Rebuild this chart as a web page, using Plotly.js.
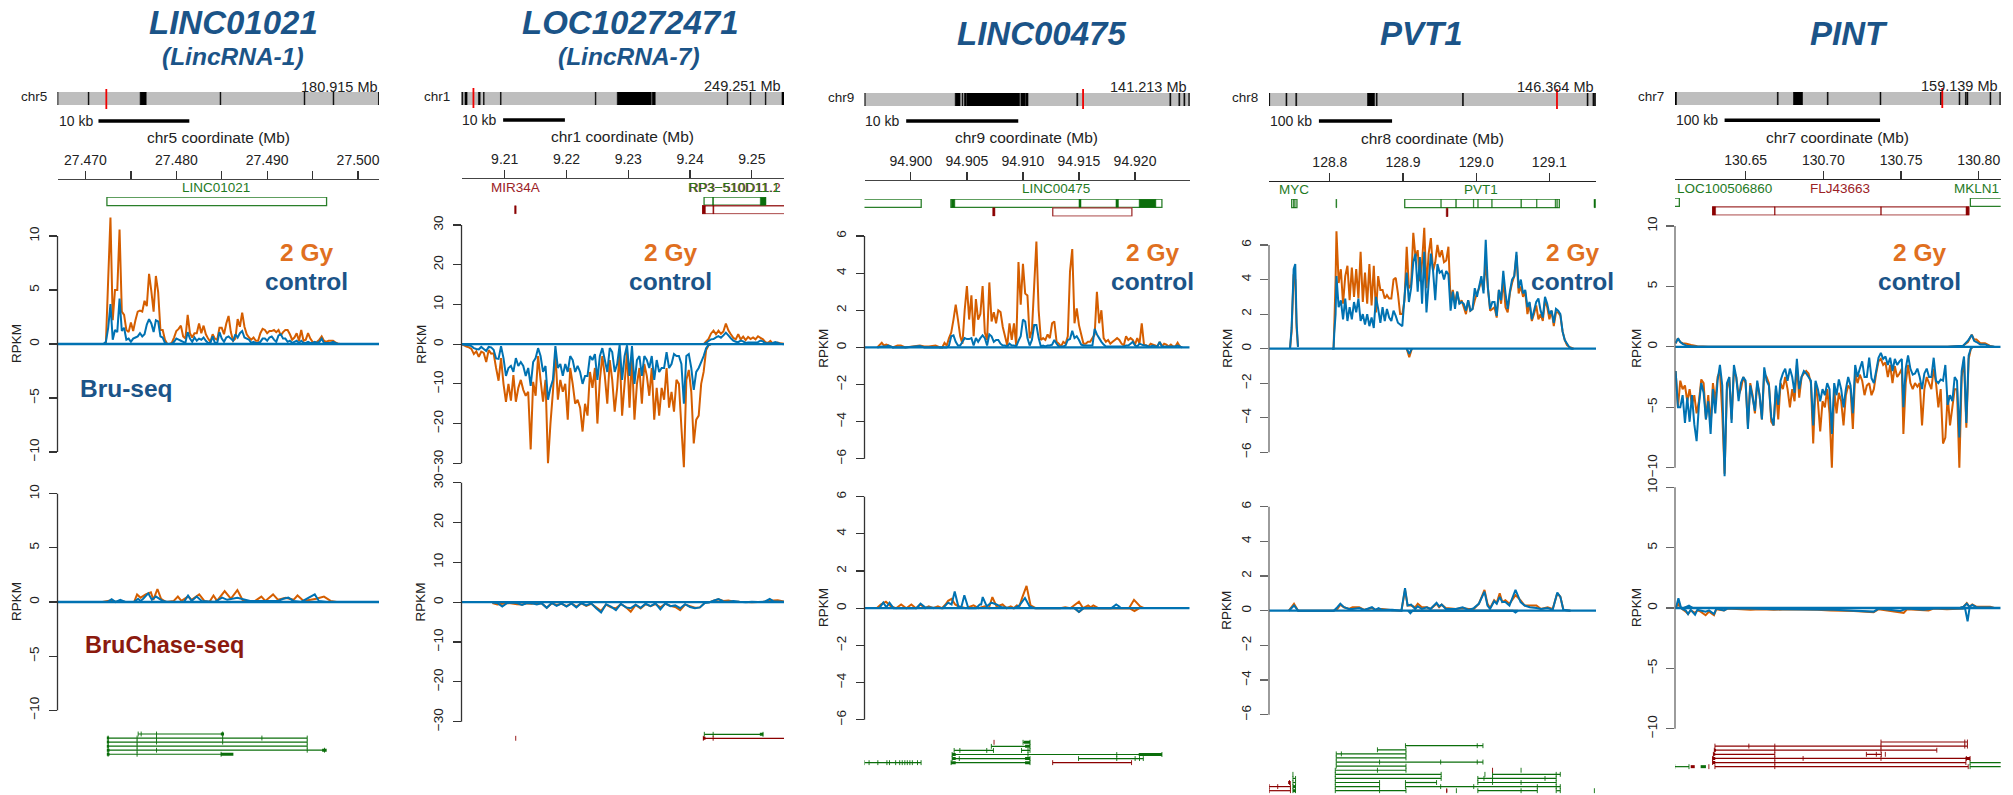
<!DOCTYPE html>
<html><head><meta charset="utf-8">
<script src="https://cdn.plot.ly/plotly-3.0.1.min.js"></script>
<style>html,body{margin:0;padding:0;background:#fff}</style></head>
<body><div id="chart" style="width:2013px;height:795px"></div>
<script>
// ---------- text ----------
const geneTitles = ["LINC01021","LOC10272471","LINC00475","PVT1","PINT"];
const geneSubtitles = ["(LincRNA-1)","(LincRNA-7)","","",""];
const chroms = ["chr5","chr1","chr9","chr8","chr7"];
const chromLen = [180.915,249.251,141.213,146.364,159.139];
const scaleKb = [10,10,10,100,100];
// ---------- genome axis ticks (Mb); x data below are kb offsets from origin ----------
const origin = [27.470,9.200,94.900,128.800,130.650];
const ticks1 = [27.470,27.475,27.480,27.485,27.490,27.495,27.500];
const tickText1 = ["27.470","","27.480","","27.490","","27.500"];
const ticks2 = [9.21,9.22,9.23,9.24,9.25];
const tickText2 = ["9.21","9.22","9.23","9.24","9.25"];
const ticks3 = [94.900,94.905,94.910,94.915,94.920];
const tickText3 = ["94.900","94.905","94.910","94.915","94.920"];
const ticks4 = [128.8,128.9,129.0,129.1];
const tickText4 = ["128.8","128.9","129.0","129.1"];
const ticks5 = [130.65,130.70,130.75,130.80];
const tickText5 = ["130.65","130.70","130.75","130.80"];
// ---------- ideogram bands (Mb), marker position (Mb) ----------
const cyto1 = [[0,.3],[17.3,17.7],[46.5,49.9],[91.5,91.9],[138.8,139.2],[155.1,155.5],[180.6,180.915]];
const cyto2 = [[0,1],[2.7,4.3],[13.1,14.4],[17,17.5],[30.1,30.6],[103.4,103.9],[120.4,146.6],[147.4,149.7],[205.3,205.8],[223.1,223.6],[234.8,235.3],[247.7,249.25]];
const cyto3 = [[0,.3],[39.4,41.5],[42.4,42.7],[43.4,44.1],[44.4,67.3],[67.9,69.7],[70,71],[92.2,92.6],[132.6,133],[136.5,136.9],[138.7,139.1],[140.8,141.2]];
const cyto4 = [[0,.3],[7.6,8],[12,12.4],[44.1,47.2],[48,48.4],[86.6,87],[142.4,142.8],[145,145.4],[145.7,146.1]];
const cyto5 = [[0,.7],[50,50.4],[57.9,62.3],[74.4,74.8],[100.2,100.6],[129.7,130.1],[138.8,139.2],[141.9,142.3],[142.7,143.1],[153.9,154.3],[158.7,159.1]];
const locus = [27.47,9.23,94.91,128.9,130.6];
// ---------- scale bar starts (kb offset) ----------
const scaleStart = [1.43,9.74,-0.42,-15,-13.5];
// ---------- gene boxes [start,end,row,strand] and exon fills, kb offsets ----------
const genes1 = [[2.36,26.54,0,"+"]];
const exons1 = [];
const genes2 = [[42.27,52.23,0,"+"],[42.04,58,1,"-"]];
const exons2 = [[11.6,11.85,1,"-"],[43.65,43.8,0,"+"],[51.37,52.23,0,"+"],[42.04,42.48,1,"-"],[43.7,43.85,1,"-"]];
const genes3 = [[-8,.92,0,"+"],[3.57,22.4,0,"+"],[12.66,19.72,1,"-"]];
const exons3 = [[3.62,3.92,0,"+"],[15,15.18,0,"+"],[18.3,18.52,0,"+"],[20.37,21.86,0,"+"],[7.3,7.5,1,"-"]];
const genes4 = [[-52.2,-45,0,"+"],[102.3,313.6,0,"+"]];
const exons4 = [[-49.8,-49.3,0,"+"],[-48,-47.5,0,"+"],[8.3,9.3,0,"+"],[151.6,152.2,0,"+"],[172,172.8,0,"+"],[196.1,196.7,0,"+"],[202.1,202.7,0,"+"],[221.2,221.8,0,"+"],[261,261.8,0,"+"],[282.5,283.1,0,"+"],[307.9,308.5,0,"+"],[310.2,310.8,0,"+"],[361,363,0,"+"],[159,161.4,1,"-"]];
const genes5 = [[-60,-42.6,0,"+"],[-21.2,143.6,1,"-"],[144.6,180,0,"+"]];
const exons5 = [[-21.2,-19.3,1,"-"],[18.6,19,1,"-"],[86.9,87.3,1,"-"],[141.8,143.6,1,"-"]];
const geneLabels = [
 [["LINC01021",216,188,"+"]],
 [["MIR34A",515,188,"-"],["RP3\u2212510D11.2",734.5,188,"-"],["RP3\u2212510D11.1",733.5,188,"+"]],
 [["LINC00475",1056,189,"+"]],
 [["MYC",1293.7,190,"+"],["PVT1",1481,190,"+"]],
 [["LOC100506860",1724,189,"+"],["FLJ43663",1840,189,"-"],["MKLN1",1976,189,"+"]]];
// ---------- transcript models [row,strand,[exon positions]] and thick blocks [row,strand,start,end] ----------
const iso1 = [[0,"+",[5.8,6.13,7.82,15.1]],[1,"+",[2.49,5.68,7.82,15.1,19.42,24.41]],[2,"+",[2.49,5.68,7.82,15.1,24.41]],[3,"+",[2.49,5.68,24.41]],[4,"+",[2.49,5.68,7.82,24.41,26.31]],[5,"+",[2.49,5.68,14.93]]];
const blocks1 = [[0,"+",14.9,15.25],[1,"+",2.35,2.6],[2,"+",2.35,2.6],[3,"+",2.35,2.6],[4,"+",2.35,2.65],[4,"+",26.05,26.55],[5,"+",2.35,2.65],[5,"+",14.9,16.28]];
const iso2 = [[0,"+",[42.31,43.74,51.81]],[1,"-",[11.78]],[1,"-",[42.15,43.74,58]]];
const blocks2 = [[0,"+",51.3,51.85],[1,"-",42.1,42.5]];
const iso3 = [[0,"-",[7.42]],[0,"+",[10.01,10.63]],[1,"+",[7.18,10.63]],[2,"+",[3.86,4.37,6.77,7.37]],[2,"+",[9.87,10.45,10.63]],[3,"+",[3.68,10.45,18.37,22.4]],[4,"+",[3.68,4.32,10.63]],[4,"+",[14.96,18.37,20.01,20.4,20.74]],[5,"+",[-4.14,-3.73,-2.95,-2.14,-1.91,-1.36,-1,-.77,-.54,-.32,-.09,.13,.59,.91]],[5,"+",[3.59,10.63]],[5,"-",[12.65,19.69]]];
const blocks3 = [[0,"+",10.1,10.63],[1,"+",10.19,10.63],[3,"+",3.68,4],[3,"+",20.33,22.4],[4,"+",3.68,4],[4,"+",10.19,10.63],[5,"+",3.59,4],[5,"+",10.19,10.63]];
const iso4 = [[0,"+",[103.3,201.4,209.2]],[1,"+",[65,104]],[2,"+",[8.7,15.7,104]],[3,"+",[8.7,104]],[4,"+",[8.7,67.9,151.4,201.4,209.2]],[5,"+",[8.7,104]],
 [6,"+",[7.4,65,104]],[6,"-",[222.3]],[6,"+",[261.3]],[7,"+",[7.4,152.1]],[7,"+",[-50.5]],[7,"+",[211.9]],[7,"+",[222.3,309.3,314.9]],
 [8,"+",[7.4,152.1]],[8,"+",[-50.5,-46.9]],[8,"+",[202.2,210.6,222.3,294,309.3]],[9,"-",[-55.2]],[9,"+",[-50.5,-46.9]],[9,"+",[7.4,67.9]],[9,"+",[103.3,145.8]],[9,"+",[202.2,222.3,261.3,309.3]],
 [10,"-",[-83,-71.3,-53.9]],[10,"+",[-50.5,-47]],[10,"+",[7.4,67.9]],[10,"+",[103.3,151.4,196.6,283.5,309.3,314.9]],
 [11,"-",[-83,-53.9]],[11,"+",[-50.5,-47]],[11,"+",[7.4,67.9,104]],[11,"-",[159.7]],[11,"+",[172.9]],[11,"+",[202.2,261.3,283.5]],[11,"+",[309.3,314.9]],[11,"+",[361.5]]];
const blocks4 = [[9,"-",-57,-53.5],[10,"+",-50.5,-46.5],[11,"+",-50.5,-46.5],[11,"-",159,160.4]];
const iso5 = [[0,"-",[87.1,141,142.7]],[1,"-",[-19.7,2.1,18.8,87.1,141,142.7]],[2,"-",[-20.1,18.8,87.1,123]],[3,"-",[-20.7,18.8]],[3,"-",[77.7,84.1,87.3]],[3,"-",[89.9]],
 [4,"-",[-21.2,18.8,37,87.1,142,144.4]],[5,"-",[-21.2,18.8,141.7]],[5,"+",[144.4,180]],[6,"+",[-45.6,-36.4]],[6,"-",[-23.6]],[6,"-",[-19.7,18.8,143.2]],[6,"+",[144.4,180]]];
const blocks5 = [[2,"-",-20.2,-19],[3,"-",-20.8,-19.5],[4,"-",-21.3,-19.5],[4,"-",141.5,144.4],[5,"-",-21.3,-19.5],[6,"-",-35.3,-32.7],[6,"+",-28.9,-25.5]];

// ---------- Bru-seq signal (RPKM): x = kb offset ----------
const bru1X = [2,2.25,2.5,2.75,3,3.25,3.5,3.75,4,4.25,4.5,4.75,5,5.25,5.5,5.75,6,6.25,6.5,6.75,7,7.25,7.5,7.75,8,8.25,8.5,8.75,9,9.25,9.5,9.75,10,10.25,10.5,10.75,11,11.25,11.5,11.75,12,12.25,12.5,12.75,13,13.25,13.5,13.75,14,14.25,14.5,14.75,15,15.25,15.5,15.75,16,16.25,16.5,16.75,17,17.25,17.5,17.75,18,18.25,18.5,18.75,19,19.25,19.5,19.75,20,20.25,20.5,20.75,21,21.25,21.5,21.75,22,22.25,22.5,22.75,23,23.25,23.5,23.75,24,24.25,24.5,24.75,25,25.25,25.5,25.75,26,26.25,26.5,26.75,27,27.25,27.5,27.75,28];
const bru1O = [0,.1,6,11.7,2.2,5,5,10.6,3,2.7,1.3,1.1,2,1.2,2.2,3,3.1,3,4,3.5,6.5,4.9,3,6.3,4.8,1.3,1.3,.4,0,0,.1,.6,1.2,1.4,1.7,.7,.5,2.7,1,.6,1,1,1.9,1,1.7,.9,.5,.2,.9,.5,.4,1.5,1.5,.9,1.9,2.6,1.1,.3,.5,2.3,1.6,2.9,1.6,.9,.6,.4,.6,.3,.3,1,1.4,1.3,1,1.2,1.2,1.3,1.1,1.3,.8,1.1,1.3,1.3,.9,.4,.6,1,.3,1.3,.3,.4,1,.5,.2,.1,.2,.4,.7,.3,.2,.3,.3,.3,.15,.05,0];
const bru1B = [0,.2,1.5,3.7,.4,1.3,1.1,4.2,1.2,1.5,.4,.5,.2,.5,.6,.7,1,.7,.9,1.8,2.3,1.9,1.1,2.2,2.1,.7,.6,.1,0,0,0,.2,.5,.4,.3,.2,.1,1.1,.5,.2,.6,.3,.5,.4,.6,.3,.1,.1,.7,.1,.1,1.1,.5,.2,.6,.7,.5,.3,.9,.6,1,1.2,.6,.5,.4,.1,.2,.1,.1,.2,.5,.5,.3,.6,.7,.4,.2,.8,.9,.5,.5,.2,.3,.1,.2,.3,.1,.3,.1,.1,.2,.1,.1,.2,.1,.2,.5,.1,.1,.1,.1,.2,.1,0,0];

const bru2X = [3,3.4,3.8,4.2,4.6,5,5.4,5.8,6.2,6.6,7,7.4,7.8,8.2,8.6,9,9.4,9.8,10.2,10.6,11,11.4,11.8,12.2,12.6,13,13.4,13.8,14.2,14.6,15,15.4,15.8,16.2,16.6,17,17.4,17.8,18.2,18.6,19,19.4,19.8,20.2,20.6,21,21.4,21.8,22.2,22.6,23,23.4,23.8,24.2,24.6,25,25.4,25.8,26.2,26.6,27,27.4,27.8,28.2,28.6,29,29.4,29.8,30.2,30.6,31,31.4,31.8,32.2,32.6,33,33.4,33.8,34.2,34.6,35,35.4,35.8,36.2,36.6,37,37.4,37.8,38.2,38.6,39,39.4,39.8,40.2,40.6,41,41.4,41.8,42.2,42.6,43,43.4];
const bru2O = [0,-.3,-.6,-.8,-1.2,-2.5,-1.8,-3.2,-1.9,-2.2,-4.5,-1.5,-2.4,-2.3,-6,-9.2,-3.5,-10,-14.5,-10,-14.2,-7.8,-14.5,-11,-9,-11.5,-13,-12,-26.5,-9.5,-13,-3,-9,-14.5,-9,-30,-20,-12,-2,-14,-9,-12,-10,-19,-6,-10,-15,-14,-16,-22,-15,-18,-7,-11,-6,-20,-9,-3,-8,-15,-4,-9,-17,-11,-2,-18,-10,-2,-16,-3,-19,-10,-6,-15,-5,-8,-13,-6,-19,-11,-18,-11,-14,-6,-16,-12,-17,-9,-10,-21,-31,-9,-6.5,-12,-25,-19,-18,-10,-7,-1.5,-.3,0];
const bru2B = [0,-.1,-.2,-.3,-.5,-1,-1.2,-1.3,-.7,-1.2,-1.7,-.7,-.8,-1.4,-3.6,-3.7,-.5,-3.5,-8,-6,-5.5,-7,-3.5,-5.5,-4.5,-5.5,-8,-6,-10.5,-4.5,-3.5,-1,-3,-7,-5.5,-14,-11,-9,-.5,-6,-5,-8,-5,-7,-3,-4,-7,-5.5,-7,-10,-8,-8,-3,-4,-2.5,-9,-3,-1,-4,-7,-1,-2,-7,-5,-.2,-9,-3,-.3,-8,-.5,-10,-4,-3,-8,-3,-4,-6,-3,-9,-4,-7,-6,-6,-2,-6,-5,-2.5,-3,-3,-5,-15,-3,-2.5,-6,-11.5,-7,-6,-4.5,-3,-1,-.2,0];
const bru2PosX = [42.2,42.6,43,43.4,43.8,44.2,44.6,45,45.4,45.8,46.2,46.6,47,47.4,47.8,48.2,48.6,49,49.4,49.8,50.2,50.6,51,51.4,51.8,52.2,52.6,53,53.4,53.8,54.2,54.6,55.2];
const bru2PosO = [0,.7,1.3,2.7,3.4,2.5,3.4,2.6,3.2,5.2,3.5,2.5,1.6,1.2,2.5,1.2,1.9,1,1.8,1.3,1.7,1.2,2,1.6,1.2,.5,.3,.8,.1,.3,.4,.2,.1];
const bru2PosB = [0,.3,.8,1.2,1.3,1.7,2,1.6,2.2,2.9,2.2,1.5,.9,.6,.5,.9,.7,.3,.4,.4,.4,.4,.5,.9,.7,.2,.2,.2,.3,.5,.3,.1,0];

const bru3X = [-3,-2.6,-2.4,-2.2,-2,-1.6,-1.2,-.9,-.5,.8,1.2,1.6,2.2,2.6,2.8,3,3.2,3.4,3.6,3.8,4,4.2,4.4,4.6,4.8,5,5.2,5.4,5.6,5.8,6,6.2,6.4,6.6,6.8,7,7.2,7.4,7.6,7.8,8,8.2,8.4,8.6,8.8,9,9.2,9.4,9.6,9.8,10,10.2,10.4,10.6,10.8,11,11.2,11.4,11.6,11.8,12,12.2,12.4,12.6,12.8,13,13.2,13.4,13.6,13.8,14,14.2,14.4,14.6,14.8,15,15.2,15.4,15.6,15.8,16,16.2,16.4,16.6,16.8,17,17.2,17.4,17.6,17.8,18,18.2,18.4,18.6,18.8,19,19.2,19.4,19.6,19.8,20,20.2,20.4,20.6,20.8,21,21.2,21.4,21.6,21.8,22,22.2,22.4,22.6,22.8,23,23.2,23.4,23.6,23.8,24,24.2];
const bru3O = [0,.25,.1,.15,.1,0,.1,.1,0,.1,.05,.05,.1,0,0,.25,.1,.5,.8,1.5,2.3,1.5,.6,.2,2,3.3,1.5,2.8,.6,2.6,1.5,1.8,3.3,.8,.4,3.5,1.4,1.9,1.3,2,1.9,1.1,.6,.1,1.3,.4,1.3,.1,4.6,2.3,4.5,2.9,2.8,.5,.9,3.3,5.7,2,.4,.5,.4,.7,.5,1.3,1.4,.3,.2,.05,.3,.2,.6,4.1,5.3,1.3,2.1,1.2,.7,.2,.2,.3,.3,.5,.7,3,1.3,2,.5,.3,.4,.2,.3,.4,.5,.4,.2,.1,.6,.4,.5,.4,.15,.5,.2,1.3,.15,.1,.05,.2,.15,.1,.05,.3,.05,.2,.15,.05,.15,.05,.05,.25,.05,0];
const bru3B = [0,.05,.05,.05,.1,0,0,0,0,.08,0,0,0,0,0,0,0,.1,.6,.65,.3,.1,.1,.3,.5,.45,.45,.5,.1,.5,.3,.5,.65,.5,.1,.7,.6,.3,.4,.4,.2,.1,.1,.05,.2,.1,.1,.05,.35,.6,1.5,1.4,.5,.1,.4,1.2,1.2,.5,.05,.1,.05,.1,.1,.15,.4,.2,.05,.05,.05,.1,.4,.45,.9,.5,.6,.4,.15,.1,.1,.1,.1,.1,1,.7,.5,.3,.15,.05,.05,.05,.05,.05,.05,.05,.05,.05,.1,.1,.2,.3,.1,.05,.2,.15,.1,.1,.05,.05,.1,.05,.05,.3,.05,.05,.05,.05,.05,.05,.05,.1,.05,0];

const bru4MycX = [-54.5,-52.3,-49.5,-47.3,-45.5,-43.6];
const bru4MycO = [0,1,4.3,4,1.2,.1];
const bru4MycB = [0,1.2,4.6,4.9,1.5,.1];
const bru4X = [3,5,6,7.8,9,12,15,18,21,24,27,30,33,36,39,42,45,48,51,54,57,60,63,66,69,72,75,78,81,84,87,90,93,96,99,102,105,108,111,114,117,120,123,126,129,132,135,138,141,144,147,150,153,156,159,162,165,168,171,174,177,180,183,186,189,192,195,198,201,204,207,210,213,216,219,222,225,228,231,234,237,240,243,246,249,252,255,258,261,264,267,270,273,276,279,282,285,288,291,294,297,300,303,306,309,312,315,318,321,324,327,330,333];
const bru4O = [0,0,1.3,4,6.8,3.8,4.6,2.6,4.2,4.8,2.8,4.7,3,4.6,2.9,5.6,2.7,4.4,2.6,4.9,2.5,4.8,2.1,4.2,3.4,3.4,2.9,3.1,2.9,2.9,4,4.1,3.2,2,2,2.8,5.9,3.5,3.7,6.7,5.3,5.7,3.9,5,7,3.5,5.5,6.4,4.5,5,6,5.3,5.7,5,5.1,5.9,2.7,3.4,2.6,3.3,2.6,2.8,2.4,2,2.8,2.2,2.3,2.8,3.2,3.5,4,3.4,5,3.5,2.2,2.3,2.4,1.8,3.4,2.6,4,2.4,2.1,3.2,3.8,4.2,5.4,3.2,3.6,3,3.3,2,2.6,1.6,2,2.5,1.7,2,1.6,2.8,2.4,1.7,2.2,1.3,2.1,2.1,1.9,1,.5,.2,.1,.05,0];
const bru4B = [0,0,.9,2,4.2,2.4,2.8,1.7,2.9,1.6,2.4,1.7,2.7,2.1,2.9,1.6,2,1.4,2,1.3,1.8,1.2,3,2.3,1.5,2.4,1.6,2.3,1.8,1.6,2.2,1.9,1.5,1.4,1.3,3,4.4,2.7,3.5,5,5.5,3.3,5.3,2.6,5.6,2.1,3.8,5.5,4.5,2.8,4.9,4.4,4.5,4,4.5,4.3,2.2,3.3,2.3,3.3,2.6,2.7,2.6,2.2,2.8,2.2,2.3,3.5,3,3.6,4.2,3.2,6.3,3.5,2.3,2.7,2.7,1.9,3.4,2.8,4.5,3.2,2.3,3.3,4,4.2,5.6,3.5,4,3.2,3.4,2.4,2.7,1.7,2.2,2.7,2.9,2.2,1.8,3,2.6,2,2.2,1.5,2.3,2.2,2,1,.5,.3,.1,0,0];
const bru4NegX = [105,108.5,112];
const bru4NegO = [0,-.5,0];
const bru4NegB = [0,-.3,0];

const bru5X = [-45,-43.5,-42,-40.5,-39,-37.5,-36,-34.5,-33,-31.5,-30,-28.5,-27,-25.5,-24,-22.5,-21,-19.5,-18,-16.5,-15,-13.5,-12,-10.5,-9,-7.5,-6,-4.5,-3,-1.5,0,1.5,3,4.5,6,7.5,9,10.5,12,13.5,15,16.5,18,19.5,21,22.5,24,25.5,27,28.5,30,31.5,33,34.5,36,37.5,39,40.5,42,43.5,45,46.5,48,49.5,51,52.5,54,55.5,57,58.5,60,61.5,63,64.5,66,67.5,69,70.5,72,73.5,75,76.5,78,79.5,81,82.5,84,85.5,87,88.5,90,91.5,93,94.5,96,97.5,99,100.5,101.5,103,104.5,106,107.5,109,110.5,112,113.5,115,116.5,118,119.5,121,122.5,124,125.5,127,128.5,130,131.5,133,134.5,136,137.5,139,140.5,142,143.5,145,146.5];
const bru5O = [-2,-5,-2.8,-3.5,-3.2,-4.5,-3.5,-4.8,-4,-5.5,-4.5,-2.7,-3,-6,-4,-6.5,-3,-4.5,-2.5,-2,-5.5,-10.5,-3.5,-2.5,-6,-2,-2.5,-4,-3.5,-2.5,-3,-6.5,-3,-4,-5.5,-3,-4,-6,-2.2,-2.5,-3,-6.2,-6.5,-3.5,-6,-3,-3.5,-2.5,-3.5,-5,-3.5,-4.5,-1.5,-4.2,-2.5,-2.2,-2,-2.2,-3,-8,-3,-4.5,-7,-4.5,-5,-3.5,-5.5,-10,-3.5,-5.5,-3.8,-4.5,-6.5,-4,-3.2,-3.5,-6.8,-2.2,-3,-2.3,-2.8,-4,-3.2,-3,-4,-3.5,-2.2,-1.2,-1,-1.5,-1.3,-2.5,-1.5,-3,-1.6,-2.5,-2.2,-1.8,-7.2,-3,-1.5,-3,-3.5,-3,-3.3,-3,-6.5,-3.5,-2.5,-3,-3.5,-1.8,-3,-5,-3.5,-8,-7.5,-4,-6.5,-5,-3.5,-3.5,-10,-2.5,-1,-6.7,-1,-.1,0];
const bru5B = [-2,-5,-5,-4,-6.3,-4.2,-6.2,-4,-6.4,-7.8,-4.8,-3,-3.8,-6,-4.5,-7.2,-3.5,-5.5,-2.8,-1.5,-3.2,-10.7,-3,-2.5,-6.3,-1.5,-2.5,-4.5,-3,-2.5,-2.8,-6.8,-3.2,-4.2,-5.3,-2.8,-4,-6,-1.7,-2.8,-3.2,-5.8,-6.5,-3.2,-4.8,-2.8,-2.2,-1.8,-2.8,-1.8,-2.5,-3.8,-1,-3.5,-2.5,-2,-2.2,-2.5,-2.8,-6.5,-2.8,-3.5,-4.5,-3.5,-4,-3,-3.5,-7.2,-3,-4,-2.7,-3.5,-5,-3.5,-2.5,-3.2,-5.5,-1.5,-2.5,-1.8,-1.2,-2.5,-2.5,-.9,-2.6,-3,-2,-.9,-.5,-1,-.8,-1.5,-.9,-2,-1,-1.5,-1.2,-1,-5,-1.8,-.7,-1.8,-2.3,-2.2,-1.8,-2.5,-3.5,-2.2,-1.8,-2.5,-2.5,-.9,-2.8,-3,-2.7,-2.8,-1.5,-4.8,-4,-4.5,-2.5,-2.8,-7.5,-2,-.8,-6.3,-.7,-.1,0];
const bru5PosX = [-45,-43.5,-42,-40.5,-38,-35,-31,-24,130,140,143,145.5,147,148.5,151,154,157,160];
const bru5PosO = [.3,.7,.4,.3,.25,.15,.05,0,0,.1,.4,1,.6,.6,.3,.3,.1,0];
const bru5PosB = [.3,.7,.4,.25,.1,.05,0,0,0,.1,.5,1,.5,.4,.2,.2,.05,0];

// ---------- BruChase-seq signal (RPKM) ----------
const chase1OX = [1.87,2.43,2.88,3.33,3.83,4.39,5.35,5.68,6.07,6.63,7.2,7.47,7.92,8.32,8.88,9.72,10.17,10.56,11.29,11.68,12.52,13.08,13.64,14.09,14.48,15.32,16,16.72,17.28,18.12,18.68,19.36,19.8,20.65,21.2,22.05,22.9,23.34,24.01,25.41,26.25,26.98,27.65];
const chase1O = [0,.1,.15,0,.1,0,0,.7,.4,.7,.9,.2,1.2,.3,0,.1,.5,.1,.5,.2,.7,.1,0,.6,.1,1,.3,1.1,.2,0,.1,.5,.1,.7,.2,.4,.2,.6,.1,.3,.5,.1,0];
const chase1BX = [2.43,2.88,3.33,3.83,4.39,5.35,5.79,6.07,6.35,6.91,7.31,7.76,8.48,9.04,10.84,11.29,11.68,12.24,12.8,14.2,15.04,15.6,16.72,18.12,20.37,21.2,21.77,22.33,22.9,23.73,25.24,25.69,26.5];
const chase1B = [0,.25,0,.2,0,0,.3,.1,.3,.8,.2,.5,.1,0,0,.6,.1,.5,.1,0,.4,.2,.4,.1,.1,.1,.3,.4,.1,0,.7,.1,0];

const chase2X = [8,8.8,9.6,10.4,11.2,12,12.8,13.6,14.4,15.2,16,16.8,17.6,18.4,19.2,20,20.8,21.6,22.4,23.2,24,24.8,25.6,26.4,27.2,28,28.8,29.6,30.4,31.2,32,32.8,33.6,34.4,35.2,36,36.8,37.6,38.4,39.2,40,40.8,41.6,42.4,43.2];
const chase2O = [-.2,-.6,-.4,-.2,-.3,-.5,-.6,-.3,-.4,-.2,-.3,-1.4,-.3,-.7,-.4,-1,-.3,-1.1,-.3,-.9,-.4,-1.3,-2.2,-.6,-1.3,-1.5,-.5,-1.2,-2.4,-.7,-1.6,-.5,-1,-.5,-1.3,-.4,-.9,-1.2,-2,-.6,-1,-1.4,-1.3,-.1,0];
const chase2B = [-.1,-.2,-1.1,-.2,-.1,-.2,-.7,-.2,-.3,-.6,-.3,-1.4,-.2,-.9,-.3,-1.1,-.3,-1.3,-.2,-.8,-.3,-1.5,-2.6,-.5,-1.1,-2,-.4,-1.3,-1.5,-.6,-1.4,-.4,-1,-.3,-1.8,-.3,-1,-.8,-1.5,-.5,-1.2,-1.5,-1.3,-.2,0];
const chase2PosX = [43.2,43.8,44.6,45.4,46.2,47,48,49,50,51,52,52.9,53.5,54.2,55.2];
const chase2PosO = [0,.4,.7,.3,.4,.2,.1,.05,0,.05,.1,.4,.4,.5,.2];
const chase2PosB = [0,.4,.8,.2,.1,.3,.1,0,.1,.05,.1,.8,.2,.2,.1];

const chase3OX = [-3.05,-2.69,-2.23,-1.78,-1.32,-.87,-.41,.04,.45,.86,1.27,1.59,2,2.41,2.77,3.09,3.32,3.63,3.95,4.23,4.91,5.59,6.04,6.59,6.95,7.27,7.64,8.18,8.55,8.91,9.18,9.45,9.68,9.95,10.32,10.68,11.14,13.32,13.77,14.23,15,15.37,15.82,16.05,16.28,16.73,19.46,19.91,20.46,20.82];
const chase3O = [0,.2,.35,.1,0,.2,0,.2,0,.2,0,.1,0,.1,0,.2,.4,.5,.2,.1,0,.15,0,.1,0,.6,.1,.2,0,.1,0,.15,.1,.6,1.2,.15,0,0,.05,0,.35,0,.15,.05,.15,0,0,.45,.1,0];
const chase3BX = [-2.82,-2.46,-2.19,-1.91,-1.55,.5,.86,1.27,2.86,3.32,3.63,3.91,4.23,4.5,4.77,5.13,5.82,6.14,6.27,6.41,6.77,7.18,7.64,8.09,9.23,9.68,10.18,10.59,11.05,17.87,18.32,18.69];
const chase3B = [0,.3,.05,.3,0,0,.25,.05,0,.3,.2,.9,.1,.05,.7,0,0,.2,.2,.6,.1,.3,.2,.05,0,.15,.55,.1,0,0,.2,.05];
const chase3NegX = [14.6,15,15.4,19.5,19.95,20.4];
const chase3NegB = [0,-.2,0,null,null,null];
const chase3NegO = [0,-.2,0,0,-.15,0];

const chase4X = [-56,-49,-43.4,5.3,10.2,14.3,19.2,26.2,31,40.1,47,57.5,62.3,66.5,71.4,85.3,97.8,102.7,106.2,111,116.6,120.1,125.7,132.6,137.5,145.8,149.3,152.8,158.4,172.3,181.4,189.7,196.7,203.6,211.3,215.4,218.9,224.5,228,232.1,235.6,239.8,245.4,253.7,260.7,266.2,273.2,282.2,288.5,297.6,304.5,310.8,315,319.1,328.9];
const chase4O = [0,.4,0,0,.1,.35,.2,.1,.2,.2,.05,.15,.05,.1,.1,.02,0,1.2,.3,.3,.2,.4,.2,.2,.1,.4,.2,.35,.15,.1,.15,.1,.1,.4,1.2,.4,.15,.6,.45,1,.5,.6,.4,.9,.6,.3,.3,.3,.1,.2,.1,1,.8,.05,0];
const chase4B = [0,.3,0,0,.2,.4,.2,.1,.1,.15,.05,.2,.05,.15,.05,.05,0,1.3,.3,.35,.1,.25,.1,.2,.1,.45,.25,.35,.1,.1,.2,.05,.15,.4,1.1,.3,.1,.55,.4,.8,.5,.5,.3,1.2,.5,.3,.2,.15,.1,.15,.05,1.05,.8,.05,0];
const chase4NegX = [107,110,113,250,253.7,257];
const chase4NegO = [0,-.1,0,0,0,0];
const chase4NegB = [0,-.15,0,0,-.1,0];

const chase5OX = [-44.8,-43.2,-41.7,-40.6,-38.5,-37,-35.3,-32.5,-31,-28.9,-25.7,-23.5,-20.3,-18.8,-13.9,-11.7,3.2,9.6,18.2,26.8,46,54.6,69.6,82.4,85.6,101.7,103.8,117.7,120.9,129.5,140.2];
const chase5O = [.1,.3,0,-.1,-.3,-.5,-.2,-.4,-.2,-.3,-.6,-.3,-.6,-.1,-.2,-.05,-.15,-.1,-.15,-.1,-.15,-.2,-.25,-.35,-.1,-.4,-.1,-.2,-.05,-.1,-.05];
const chase5BX = [-44.8,-43.2,-41.7,-40.6,-38.5,-37,-35.3,-32.5,-31,-28.9,-25.7,-23.5,-20.3,-18.8,-13.9,-11.7,3.2,18.2,56.7,82.4,85.6,99.5,103.8,114.5,120.9,141.2,142.8,144];
const chase5B = [0,.8,.1,-.1,-.2,-.5,-.15,-.55,-.15,-.2,-.3,-.2,-.5,-.05,-.2,-.05,-.05,-.1,-.15,-.3,-.05,-.25,-.05,-.15,-.05,-.05,-1.1,-.05];
const chase5PosX = [-39.6,-36.4,-34,138,140.2,142.3,144,145.8,148.7,157.3,160];
const chase5PosO = [0,.1,0,0,.1,.4,.1,.3,.1,.1,0];
const chase5PosB = [0,.2,0,0,.1,.35,.1,.25,.05,.05,0];

// ---------- colours ----------
const ORANGE="#D55E00", BLUE="#0072B2", GREEN="#0B6E0B", RED="#8B0000";
const TITLE_BLUE="#1B5488", LABEL_ORANGE="#E0701F", CHASE_RED="#8B1A0E";
const strandColor = {"+":GREEN,"-":RED};
const labelColor = {"+":"#1F7A1F","-":"#9B2226"};
const FONT="Liberation Sans, Arial, sans-serif";

// ---------- curves per column ----------
const bruCurves = [
 [[bru1X,bru1O,ORANGE],[bru1X,bru1B,BLUE]],
 [[bru2X,bru2O,ORANGE],[bru2PosX,bru2PosO,ORANGE],[bru2X,bru2B,BLUE],[bru2PosX,bru2PosB,BLUE]],
 [[bru3X,bru3O,ORANGE],[bru3X,bru3B,BLUE]],
 [[bru4MycX,bru4MycO,ORANGE],[bru4X,bru4O,ORANGE],[bru4NegX,bru4NegO,ORANGE],[bru4MycX,bru4MycB,BLUE],[bru4X,bru4B,BLUE],[bru4NegX,bru4NegB,BLUE]],
 [[bru5X,bru5O,ORANGE],[bru5PosX,bru5PosO,ORANGE],[bru5X,bru5B,BLUE],[bru5PosX,bru5PosB,BLUE]]];
const chaseCurves = [
 [[chase1OX,chase1O,ORANGE],[chase1BX,chase1B,BLUE]],
 [[chase2X,chase2O,ORANGE],[chase2PosX,chase2PosO,ORANGE],[chase2X,chase2B,BLUE],[chase2PosX,chase2PosB,BLUE]],
 [[chase3OX,chase3O,ORANGE],[chase3NegX,chase3NegO,ORANGE],[chase3BX,chase3B,BLUE],[chase3NegX,chase3NegB,BLUE]],
 [[chase4X,chase4O,ORANGE],[chase4NegX,chase4NegO,ORANGE],[chase4X,chase4B,BLUE],[chase4NegX,chase4NegB,BLUE]],
 [[chase5OX,chase5O,ORANGE],[chase5PosX,chase5PosO,ORANGE],[chase5BX,chase5B,BLUE],[chase5PosX,chase5PosB,BLUE]]];
const allTicks=[ticks1,ticks2,ticks3,ticks4,ticks5], allTickText=[tickText1,tickText2,tickText3,tickText4,tickText5];
const allCyto=[cyto1,cyto2,cyto3,cyto4,cyto5];
const allGenes=[genes1,genes2,genes3,genes4,genes5], allExons=[exons1,exons2,exons3,exons4,exons5];
const allIso=[iso1,iso2,iso3,iso4,iso5], allBlocks=[blocks1,blocks2,blocks3,blocks4,blocks5];

// ---------- page geometry (pixels) ----------
const W=2013,H=795;
const px=p=>p/W, py=p=>1-p/H;
const geo=[
 {l:57.5,r:379,ideo:[92,105],ax:179,xr:[27.46692,27.50231],bru:[236,452],ch:[493.7,710.3],yt:[-10,-5,0,5,10],gene:[197,9],iso:[734,4.05],
  title:233,tY:23,chrX:48.5,chrY:97,mbX:339,mbY:87,redY:[89,109],barY:121,kbX:95,coX:218,coY:138,gyX:306.5,rkB:16,rkC:16,rkYB:344,rkYC:602,axc:"#333"},
 {l:461.5,r:784,ideo:[92,105],ax:178,xr:[9.2030,9.25521],bru:[225,463.3],ch:[482.7,721.7],yt:[-30,-20,-10,0,10,20,30],gene:[197,8.6],iso:[734.3,4],
  title:630,tY:23,chrX:452,chrY:96.5,mbX:742.5,mbY:86,redY:[88,108],barY:120,kbX:498,coX:622,coY:137,gyX:670,rkB:420.7,rkC:419.5,rkYB:344,rkYC:602,axc:"#333"},
 {l:864.5,r:1189.7,ideo:[93,106],ax:180,xr:[94.89586,94.92488],bru:[236,458.8],ch:[496.7,719.7],yt:[-6,-4,-2,0,2,4,6],gene:[199,8.7],iso:[742.3,4.07],
  title:1041,tY:34,chrX:855.5,chrY:98,mbX:1148.5,mbY:87,redY:[89,109],barY:121,kbX:901.3,coX:1026,coY:138,gyX:1152,rkB:822.7,rkC:823,rkYB:348,rkYC:608,axc:"#333"},
 {l:1269,r:1596,ideo:[93,106],ax:180.7,xr:[128.7168,129.1637],bru:[245,452.3],ch:[506.7,714.7],yt:[-6,-4,-2,0,2,4,6],gene:[199,9],iso:[745.7,4.09],
  title:1421.7,tY:34,chrX:1260,chrY:98,mbX:1555,mbY:87,redY:[89,109],barY:121,kbX:1314.3,coX:1432,coY:139,gyX:1572.5,rkB:1226.7,rkC:1227,rkYB:348,rkYC:610.7,axc:"#666"},
 {l:1675,r:2000.7,ideo:[92,105],ax:179,xr:[130.6046,130.8141],bru:[226,467.7],ch:[487.3,728.7],yt:[-10,-5,0,5,10],gene:[198,8.7],iso:[742,4.11],
  title:1849,tY:34,chrX:1665.7,chrY:97,mbX:1959.5,mbY:86,redY:[88,108],barY:120.3,kbX:1720,coX:1837,coY:138,gyX:1919,rkB:1635.7,rkC:1636,rkYB:348,rkYC:608,axc:"#666"}];

const PAD_TOP=32, PAD_BOT=16; // the plotted band extends past the tick span so that peaks are not clipped
const traces=[], shapes=[], annotations=[], layout={};
const note=(text,x,y,size,color,extra={})=>annotations.push(Object.assign({text,x:px(x),y:py(y),xref:"paper",yref:"paper",showarrow:false,xanchor:"center",yanchor:"middle",font:{family:FONT,size,color}},extra));

geo.forEach((g,c)=>{
 const xI="x"+(2*c+1), xG="x"+(2*c+2), yI="y"+(5*c+1), yGn="y"+(5*c+2), yB="y"+(5*c+3), yC="y"+(5*c+4), yIs="y"+(5*c+5);
 const key=a=>a.replace("x","xaxis").replace("y","yaxis");
 const toMb=a=>a.map(k=>k===null?null:+(origin[c]+k/1000).toFixed(6));
 layout[key(xI)]={domain:[px(g.l),px(g.r)],range:[0,chromLen[c]],visible:false,anchor:yI,fixedrange:true};
 layout[key(yI)]={domain:[py(g.ideo[1]),py(g.ideo[0])],range:[0,1],visible:false,anchor:xI,fixedrange:true};
 layout[key(xG)]={domain:[px(g.l),px(g.r)],range:g.xr,anchor:"free",position:py(g.ax),side:"top",showline:true,linecolor:g.axc==="#333"?"#444":"#222",linewidth:1.3,
   ticks:"outside",ticklen:8,tickwidth:1.2,tickcolor:"#333",tickmode:"array",tickvals:allTicks[c],ticktext:allTickText[c],showgrid:false,zeroline:false,
   tickfont:{family:FONT,size:14,color:"#222"},fixedrange:true};
 layout[key(yGn)]={domain:[py(g.gene[0]+2*g.gene[1]),py(g.gene[0])],range:[2,0],visible:false,anchor:xG,fixedrange:true};
 const yAxis=(dom)=>{
   const lo=g.yt[0], hi=g.yt[g.yt.length-1], s=(hi-lo)/(dom[1]-dom[0]);
   shapes.push({type:"line",xref:"paper",yref:"paper",x0:px(g.l),x1:px(g.l),y0:py(dom[1]),y1:py(dom[0]),line:{color:g.axc,width:1.3}});
   return {domain:[py(dom[1]+PAD_BOT),py(dom[0]-PAD_TOP)],range:[lo-PAD_BOT*s,hi+PAD_TOP*s],anchor:xG,side:"left",showline:false,ticks:"outside",ticklen:8,tickwidth:1.2,tickcolor:g.axc,
   tickmode:"array",tickvals:g.yt,tickangle:-90,ticklabelstandoff:4,showgrid:false,zeroline:false,tickfont:{family:FONT,size:13.5,color:"#222"},fixedrange:true};
 };
 layout[key(yB)]=yAxis(g.bru);
 layout[key(yC)]=yAxis(g.ch);
 const isoBottom=Math.min(795,g.iso[0]+13*g.iso[1]);
 layout[key(yIs)]={domain:[py(isoBottom),py(g.iso[0]-g.iso[1])],range:[(isoBottom-g.iso[0])/g.iso[1],-1],visible:false,anchor:xG,fixedrange:true};
 // ideogram
 shapes.push({type:"rect",xref:xI,yref:yI,x0:0,x1:chromLen[c],y0:0,y1:1,fillcolor:"#BEBEBE",line:{width:0},layer:"below"});
 allCyto[c].forEach(b=>shapes.push({type:"rect",xref:xI,yref:yI,x0:b[0],x1:b[1],y0:0,y1:1,fillcolor:"#000",line:{color:"#000",width:.6}}));
 shapes.push({type:"line",xref:xI,yref:"paper",x0:locus[c],x1:locus[c],y0:py(g.redY[1]),y1:py(g.redY[0]),line:{color:"#F00000",width:1.8}});
 // scale bar
 const sb=[scaleStart[c],scaleStart[c]+scaleKb[c]];
 shapes.push({type:"line",xref:xG,yref:"paper",x0:origin[c]+sb[0]/1000,x1:origin[c]+sb[1]/1000,y0:py(g.barY),y1:py(g.barY),line:{color:"#000",width:3.5}});
 // gene boxes
 allGenes[c].forEach(b=>shapes.push({type:"rect",xref:xG,yref:yGn,x0:origin[c]+b[0]/1000,x1:origin[c]+b[1]/1000,y0:b[2]+.02,y1:b[2]+.96,fillcolor:"#fff",line:{color:b[3]==="+"?"#2A7F2A":"#A03030",width:1.3}}));
 allExons[c].forEach(b=>shapes.push({type:"rect",xref:xG,yref:yGn,x0:origin[c]+b[0]/1000,x1:origin[c]+b[1]/1000,y0:b[2]+.02,y1:b[2]+.96,fillcolor:strandColor[b[3]],line:{color:strandColor[b[3]],width:.5}}));
 // signal
 const addCurves=(list,y)=>{
  list.forEach(cv=>traces.push({type:"scatter",mode:"lines",x:toMb(cv[0]),y:cv[1],xaxis:xG,yaxis:y,connectgaps:false,hoverinfo:"skip",line:{color:cv[2],width:2,simplify:false}}));
  traces.push({type:"scatter",mode:"lines",x:g.xr,y:[0,0],xaxis:xG,yaxis:y,hoverinfo:"skip",line:{color:BLUE,width:2.3}});
 };
 addCurves(bruCurves[c],yB);
 addCurves(chaseCurves[c],yC);
 // transcripts
 ["+","-"].forEach(s=>{
  const xs=[],ys=[];
  allIso[c].filter(t=>t[1]===s).forEach(t=>{t[2].forEach(k=>{xs.push(k);ys.push(t[0]);});xs.push(null);ys.push(null);});
  if(xs.length) traces.push({type:"scatter",mode:"lines+markers",x:toMb(xs),y:ys,xaxis:xG,yaxis:yIs,hoverinfo:"skip",connectgaps:false,line:{color:strandColor[s],width:1.2},marker:{symbol:"line-ns",size:3.5,line:{color:strandColor[s],width:.9}}});
  const bx=[],by=[];
  allBlocks[c].filter(t=>t[1]===s).forEach(t=>{bx.push(t[2],t[3],null);by.push(t[0],t[0],null);});
  if(bx.length) traces.push({type:"scatter",mode:"lines",x:toMb(bx),y:by,xaxis:xG,yaxis:yIs,hoverinfo:"skip",connectgaps:false,line:{color:strandColor[s],width:3}});
 });
 // text
 const tf={family:FONT,size:33,color:TITLE_BLUE,weight:700,style:"italic"};
 note(geneTitles[c],g.title,g.tY,33,TITLE_BLUE,{font:tf});
 if(geneSubtitles[c]) note(geneSubtitles[c],g.title-(c?1:0),57,24.5,TITLE_BLUE,{font:Object.assign({},tf,{size:24.5})});
 note(chroms[c],g.chrX,g.chrY,13.5,"#222",{xanchor:"right"});
 note(chromLen[c].toFixed(3)+" Mb",g.mbX,g.mbY,14.5,"#222");
 note(scaleKb[c]+" kb",g.kbX,g.barY,14,"#222",{xanchor:"right"});
 note(chroms[c]+" coordinate (Mb)",g.coX,g.coY,15.5,"#222");
 geneLabels[c].forEach(l=>note(l[0],l[1],l[2],13.5,labelColor[l[3]]));
 note("RPKM",g.rkB,g.rkYB,13.5,"#222",{textangle:-90});
 note("RPKM",g.rkC,g.rkYC,13.5,"#222",{textangle:-90});
 note("2 Gy",g.gyX,253,24.5,LABEL_ORANGE,{font:{family:FONT,size:24.5,color:LABEL_ORANGE,weight:700}});
 note("control",g.gyX,282,24.5,TITLE_BLUE,{font:{family:FONT,size:24.5,color:TITLE_BLUE,weight:700}});
});
note("Bru-seq",127,388,24.5,TITLE_BLUE,{font:{family:FONT,size:24.5,color:TITLE_BLUE,weight:700}});
note("BruChase-seq",164,645,23.5,CHASE_RED,{font:{family:FONT,size:23.5,color:CHASE_RED,weight:700}});

Object.assign(layout,{width:W,height:H,margin:{l:0,r:0,t:0,b:0},showlegend:false,paper_bgcolor:"#fff",plot_bgcolor:"rgba(0,0,0,0)",shapes,annotations,hovermode:false});
Plotly.newPlot("chart",traces,layout,{staticPlot:true,displayModeBar:false});
</script></body></html>
